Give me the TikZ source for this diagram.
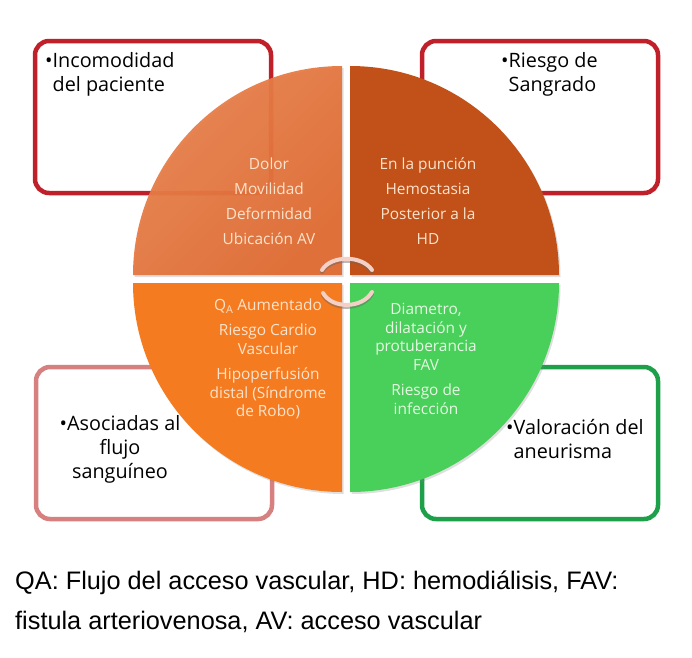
\documentclass[tikz,border=0pt]{standalone}
\usepackage{fontspec}
\setmainfont{Open Sans}
\newfontfamily\notafont{Liberation Sans}
\usepackage{xcolor}
\usetikzlibrary{positioning, shadows}

\definecolor{quadtl}{HTML}{E06A30}
\definecolor{quadtllight}{HTML}{E8824E}
\definecolor{quadtr}{HTML}{C15118}
\definecolor{quadbl}{HTML}{F57B20}
\definecolor{quadbr}{HTML}{48D05A}
\definecolor{boxred}{HTML}{C0202A}
\definecolor{boxpink}{HTML}{D68080}
\definecolor{boxgreen}{HTML}{1EA04B}
\definecolor{cream}{HTML}{FCE3CC}
\definecolor{mint}{HTML}{E6F8E2}
\definecolor{swirl}{HTML}{F4D0C6}

\begin{document}
\begin{tikzpicture}[x=1pt, y=-1pt,
    frame/.style={draw, line width=4.5pt, rounded corners=14pt, fill=white,
                  minimum width=236pt, minimum height=152pt},
    boxtxt/.style={inner sep=0pt, font=\fontsize{19.8}{24}\selectfont},
    quad/.style={drop shadow={opacity=0.25, shadow xshift=1.5pt, shadow yshift=-2pt}},
    wide/.style={inner sep=0pt, align=center, font=\fontsize{15.4}{25}\selectfont},
    tight/.style={inner sep=0pt, align=center, font=\fontsize{15.4}{18.5}\selectfont},
    swirlarc/.style={draw=swirl, line width=4pt, line cap=round}
  ]
  \useasboundingbox (0,0) rectangle (692,657);

  % frames behind the pie
  \node[frame, draw=boxred]   (incbox)  at (153,117) {};
  \node[frame, draw=boxred]   (sangbox) at (540,117) {};
  \node[frame, draw=boxpink]  (flubox)  at (154,443) {};
  \node[frame, draw=boxgreen] (aneubox) at (540,443) {};

  \node[boxtxt, anchor=west, align=left]   (inc)  at (45,74)  {\textbullet Incomodidad\\\hphantom{\textbullet}del paciente};
  \node[boxtxt, anchor=west, align=left]   (sang) at (501,74) {\textbullet Riesgo de\\\hphantom{\textbullet}Sangrado};
  \node[boxtxt, align=center]              (flu)  at (120,449) {\textbullet Asociadas al\\flujo\\sanguíneo};
  \node[boxtxt, anchor=west, align=left]   (aneu) at (506,439) {\textbullet Valoración del\\\hphantom{\textbullet}aneurisma};

  % pie quarters
  \shade[quad, left color=quadtllight, right color=quadtl, shading angle=45, opacity=0.94] (342,275) -- ++(-209,0) arc[start angle=180, end angle=270, radius=209] -- cycle;
  \fill[quad, quadtr] (350,275) -- ++(0,-209) arc[start angle=270, end angle=360, radius=209] -- cycle;
  \fill[quad, quadbr] (350,283) -- ++(209,0) arc[start angle=0, end angle=90, radius=209] -- cycle;
  \fill[quad, quadbl] (342,283) -- ++(0,209) arc[start angle=90, end angle=180, radius=209] -- cycle;

  \node[wide, text=cream]  (dolor)  at (269,201) {Dolor\\Movilidad\\Deformidad\\Ubicación AV};
  \node[wide, text=cream]  (puncion) at (428,201) {En la punción\\Hemostasia\\Posterior a la\\HD};
  \node[tight, text=cream] (qa)     at (268,359) {Q\textsubscript{A} Aumentado\\[7pt]Riesgo Cardio\\Vascular\\[7pt]Hipoperfusión\\distal (Síndrome\\de Robo)};
  \node[tight, text=mint]  (diam)   at (426,359) {Diametro,\\dilatación y\\protuberancia\\FAV\\[7pt]Riesgo de\\infección};

  % centre swirl
  \draw[swirlarc, draw=black!60, opacity=0.45] (322,272) .. controls (331,257) and (362,257) .. (372,272);
  \draw[swirlarc] (322,270) .. controls (331,255) and (362,255) .. (372,270);
  \draw[swirlarc, draw=black!60, opacity=0.45] (323,295) .. controls (332,311) and (362,311) .. (372,294);
  \draw[swirlarc] (323,293) .. controls (332,309) and (362,309) .. (372,292);

  \node[inner sep=0pt, anchor=west, align=left, font=\notafont\fontsize{25.3}{40}\selectfont] (nota) at (15,602)
    {QA: Flujo del acceso vascular, HD: hemodiálisis, FAV:\\fistula arteriovenosa, AV: acceso vascular};
\end{tikzpicture}
\end{document}
